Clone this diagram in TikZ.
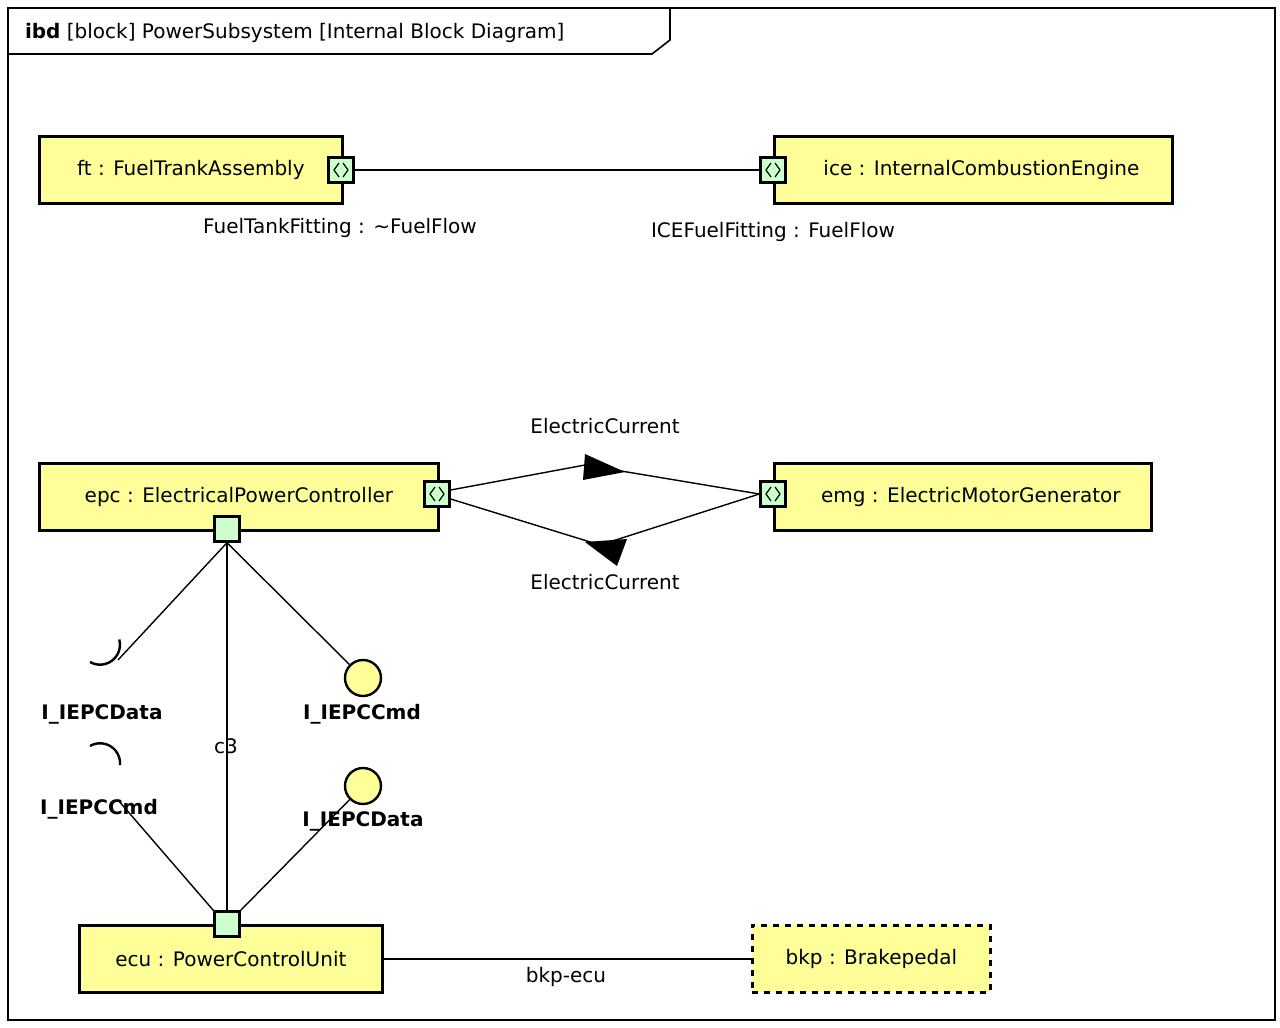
\documentclass[tikz,border=0pt]{standalone}
\usepackage{fontspec}
\setmainfont{DejaVu Sans}
\usetikzlibrary{positioning}
\definecolor{partfill}{HTML}{FFFF99}
\definecolor{portfill}{HTML}{CCFFCC}
\tikzset{
  part/.style={draw, line width=1.4pt, fill=partfill, minimum height=33.5pt, inner xsep=9pt, font=\fontsize{10}{12}\selectfont},
  port/.style={draw, line width=1.2pt, fill=portfill, minimum size=12.5pt, inner sep=0pt},
  flowport/.style={port, path picture={
      \draw[line width=0.6pt] ([xshift=-1pt,yshift=3.5pt]path picture bounding box.center) -- ++(-2.5pt,-3.5pt) -- ++(2.5pt,-3.5pt);
      \draw[line width=0.6pt] ([xshift=1pt,yshift=3.5pt]path picture bounding box.center) -- ++(2.5pt,-3.5pt) -- ++(-2.5pt,-3.5pt);}},
  lbl/.style={font=\fontsize{10}{12}\selectfont},
  iflbl/.style={font=\bfseries\fontsize{10}{12}\selectfont},
  conn/.style={line width=0.7pt},
}
\begin{document}
\begin{tikzpicture}[x=0.5pt, y=-0.5pt]
  \useasboundingbox (0,0) rectangle (1280,1028);
  % frame
  \draw[line width=0.8pt] (8,8) rectangle (1275,1020);
  \draw[line width=0.8pt] (670,8) -- (670,40) -- (652,54) -- (8,54);
  \node[lbl, anchor=west] (title) at (18,33) {\textbf{ibd} [block] PowerSubsystem [Internal Block Diagram]};

  % parts
  \node[part, minimum width=151.5pt, anchor=north west] (ft) at (38,135) {ft : FuelTrankAssembly\hspace{8pt}};
  \node[part, minimum width=199pt, anchor=north west] (ice) at (773,135) {\hspace{8pt}ice : InternalCombustionEngine};
  \node[part, minimum width=199.5pt, anchor=north west] (epc) at (38,462) {epc : ElectricalPowerController\hspace{8pt}};
  \node[part, minimum width=188.5pt, anchor=north west] (emg) at (773,462) {\hspace{8pt}emg : ElectricMotorGenerator};
  \node[part, minimum width=151.5pt, anchor=north west] (ecu) at (78,924) {ecu : PowerControlUnit};
  \node[part, dashed, minimum width=119pt, anchor=north west] (bkp) at (751,924) {bkp : Brakepedal};

  % ports
  \node[flowport] (ftp) at (341,170) {};
  \node[flowport] (icep) at (773,170) {};
  \node[flowport] (epcp) at (437,494) {};
  \node[flowport] (emgp) at (773,494) {};
  \node[port] (epcb) at (227,529) {};
  \node[port] (ecut) at (227,924) {};

  % interfaces
  \node[draw, circle, line width=1.2pt, fill=partfill, minimum size=18pt, inner sep=0pt] (ballcmd) at (363,678) {};
  \node[draw, circle, line width=1.2pt, fill=partfill, minimum size=18pt, inner sep=0pt] (balldata) at (363,786) {};
  \coordinate (sockdata) at (118,660);
  \coordinate (sockcmd) at (118,800);
  \draw[line width=1.2pt] (90,662) arc[start angle=120, end angle=-15, radius=20];
  \draw[line width=1.2pt] (120,765) arc[start angle=5, end angle=-120, radius=20];

  % connectors
  \draw[conn] (ftp) -- (icep);
  \node[lbl] (ftl) at (340,228) {FuelTankFitting : \textasciitilde FuelFlow};
  \node[lbl] (icel) at (773,232) {ICEFuelFitting : FuelFlow};

  \coordinate (upk) at (585,465);
  \coordinate (lok) at (600,545);
  \draw[conn] (epcp.east) ++(0,-4) -- (upk) -- (emgp.west);
  \draw[conn] (epcp.east) ++(0,5) -- (lok) -- (emgp.west);
  \fill (585,454) -- (625,472) -- (583,480) -- cycle;
  \fill (585,542) -- (627,539) -- (617,566) -- cycle;
  \node[lbl] (ec1) at (605,426) {ElectricCurrent};
  \node[lbl] (ec2) at (605,582) {ElectricCurrent};

  \draw[conn] (epcb.south) -- (sockdata);
  \draw[conn] (epcb.south) -- (ballcmd);
  \draw[conn] (epcb.south) -- (ecut.north);
  \draw[conn] (ecut.north west) -- (sockcmd);
  \draw[conn] (ecut.north east) -- (balldata);
  \node[iflbl] (l1) at (102,714) {I\_IEPCData};
  \node[iflbl] (l2) at (362,714) {I\_IEPCCmd};
  \node[lbl] (c3) at (226,746) {c3};
  \node[iflbl] (l3) at (99,809) {I\_IEPCCmd};
  \node[iflbl] (l4) at (363,821) {I\_IEPCData};

  \draw[conn] (ecu.east) -- (bkp.west);
  \node[lbl] (bkl) at (566,977) {bkp-ecu};
\end{tikzpicture}
\end{document}
